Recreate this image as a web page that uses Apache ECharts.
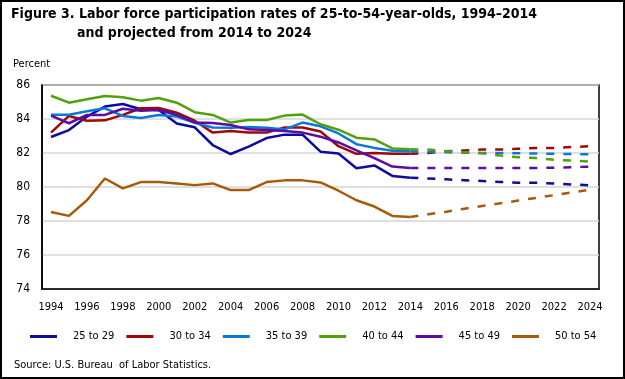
<!DOCTYPE html>
<html><head><meta charset="utf-8">
<script src="https://cdn.jsdelivr.net/npm/echarts@6/dist/echarts.min.js"></script>
<style>html,body{margin:0;padding:0;background:#fff}#c{width:625px;height:379px}</style>
</head><body><div id="c"></div>
<script>
const years = ['1994','1995','1996','1997','1998','1999','2000','2001','2002','2003','2004','2005','2006','2007','2008','2009','2010','2011','2012','2013','2014','2015','2016','2017','2018','2019','2020','2021','2022','2023','2024'];
const histYears = years.slice(0, 21);
const projYears = years.slice(20);
const names = ['25 to 29','30 to 34','35 to 39','40 to 44','45 to 49','50 to 54'];
const colors = ['#0c0c9e','#a00808','#0a78d8','#52a00c','#5a0ca6','#a65a0c'];

const hist25 = [82.94,83.35,84.14,84.73,84.88,84.57,84.53,83.74,83.51,82.47,81.94,82.37,82.88,83.08,83.08,82.08,81.97,81.10,81.27,80.65,80.55];
const hist30 = [83.20,84.18,83.90,83.92,84.24,84.63,84.65,84.37,83.90,83.20,83.30,83.20,83.20,83.50,83.50,83.27,82.40,81.95,82.00,81.95,81.95];
const hist35 = [84.25,84.25,84.45,84.63,84.18,84.06,84.24,84.14,83.77,83.50,83.49,83.53,83.49,83.39,83.79,83.57,83.15,82.52,82.30,82.13,82.10];
const hist40 = [85.37,84.96,85.16,85.35,85.28,85.08,85.24,84.96,84.40,84.24,83.79,83.94,83.94,84.20,84.26,83.69,83.37,82.90,82.80,82.27,82.22];
const hist45 = [84.20,83.75,84.24,84.24,84.60,84.49,84.53,84.24,83.80,83.76,83.65,83.39,83.35,83.30,83.20,82.96,82.62,82.15,81.70,81.20,81.12];
const hist50 = [78.53,78.30,79.22,80.50,79.92,80.29,80.29,80.21,80.11,80.21,79.82,79.82,80.29,80.39,80.39,80.27,79.78,79.22,78.85,78.30,78.24];

const proj25 = [80.55,80.50,80.45,80.40,80.35,80.30,80.25,80.25,80.20,80.15,80.10];
const proj30 = [81.95,82.00,82.10,82.15,82.20,82.20,82.25,82.30,82.30,82.35,82.40];
const proj35 = [82.10,82.08,82.05,82.02,82.00,82.00,81.98,81.97,81.95,81.94,81.92];
const proj40 = [82.22,82.20,82.10,82.05,81.98,81.85,81.75,81.70,81.60,81.55,81.50];
const proj45 = [81.12,81.12,81.12,81.12,81.12,81.12,81.12,81.12,81.13,81.17,81.20];
const proj50 = [78.24,78.40,78.55,78.72,78.88,79.04,79.20,79.36,79.52,79.68,79.85];

const yTicks = [74,76,78,80,82,84,86];

const hists = [hist25,hist30,hist35,hist40,hist45,hist50];
const projs = [proj25,proj30,proj35,proj40,proj45,proj50];
const FONT = '"Liberation Sans Narrow","DejaVu Sans Condensed","Liberation Sans",sans-serif';

const series = [];
names.forEach((n, i) => {
  series.push({
    name: n, type: 'line', showSymbol: false, symbol: 'none', silent: true,
    data: histYears.map((y, k) => [y, hists[i][k]]),
    lineStyle: {color: colors[i], width: 2.5},
    itemStyle: {color: colors[i]}
  });
});
names.forEach((n, i) => {
  series.push({
    name: n + ' projected', type: 'line', showSymbol: false, symbol: 'none', silent: true,
    data: projYears.map((y, k) => [y, projs[i][k]]),
    lineStyle: {color: colors[i], width: 2.5, type: [8, 9]},
    itemStyle: {color: colors[i]}
  });
});

const chart = echarts.init(document.getElementById('c'), null, {renderer: 'canvas'});
chart.setOption({
  animation: false,
  backgroundColor: '#fff',
  title: [
    {text: 'Figure 3. Labor force participation rates of 25-to-54-year-olds, 1994\u20132014', left: 11, top: 7, padding: 0,
     textStyle: {fontFamily: FONT, fontWeight: 'bold', fontSize: 14, color: '#000'}},
    {text: 'and projected from 2014 to 2024', left: 77, top: 26, padding: 0,
     textStyle: {fontFamily: FONT, fontWeight: 'bold', fontSize: 14, color: '#000'}}
  ],
  graphic: [
    {type: 'rect', shape: {x: 1, y: 1, width: 623, height: 377}, style: {fill: 'none', stroke: '#000', lineWidth: 2}, silent: true},
    {type: 'text', left: 13, top: 59, style: {text: 'Percent', font: '11px ' + FONT, fill: '#000'}},
    {type: 'text', left: 14, top: 360, style: {text: 'Source: U.S. Bureau  of Labor Statistics.', font: '11px ' + FONT, fill: '#000'}}
  ],
  legend: {
    data: names, left: 30, top: 331, width: 595, padding: 0, icon: 'rect', itemWidth: 27, itemHeight: 3, itemGap: 12,
    selectedMode: false,
    textStyle: {fontFamily: FONT, fontSize: 11, color: '#000', padding: [0, 0, 0, 11], width: 42}
  },
  grid: {left: 42, right: 26, top: 85, bottom: 90, show: true, borderColor: '#000', borderWidth: 1.5, backgroundColor: 'transparent'},
  xAxis: {
    type: 'category', data: years, boundaryGap: true,
    axisLine: {show: true, lineStyle: {color: '#000', width: 1.5}},
    axisTick: {show: false},
    axisLabel: {interval: 1, margin: 13, fontFamily: FONT, fontSize: 11, color: '#000'},
    splitLine: {show: false}
  },
  yAxis: {
    type: 'value', min: yTicks[0], max: yTicks[yTicks.length - 1], interval: 2,
    axisLine: {show: true, lineStyle: {color: '#000', width: 1.5}},
    axisTick: {show: false},
    axisLabel: {margin: 12, fontFamily: FONT, fontSize: 12, color: '#000'},
    splitLine: {show: true, lineStyle: {color: '#d4d4d4', width: 1.5}}
  },
  series: series
});
</script></body></html>
